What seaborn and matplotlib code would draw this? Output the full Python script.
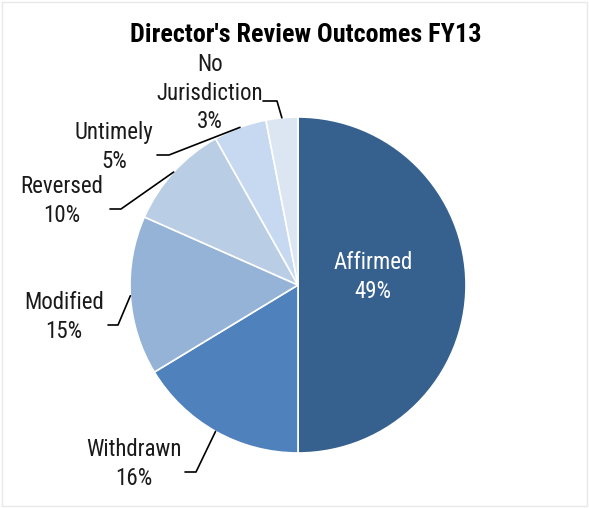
import matplotlib.pyplot as plt
import matplotlib.font_manager as fm
import numpy as np
import seaborn as sns
from matplotlib.patches import Rectangle

categories = ["Affirmed", "Withdrawn", "Modified", "Reversed", "Untimely", "No\nJurisdiction"]
shares = [49, 16, 15, 10, 5, 3]
COLORS = ["#36618f", "#4f81bd", "#95b3d7", "#b9cde5", "#c6d9f1", "#dce6f2"]

sns.set_theme(style="white")

available = {f.name for f in fm.fontManager.ttflist}
narrow = [n for n in ["Liberation Sans Narrow", "Arial Narrow", "Roboto Condensed",
                      "DejaVu Sans Condensed", "Open Sans Condensed"] if n in available]
if narrow:
    FAMILY, LABEL_SIZE, TITLE_SIZE = narrow[0], 16.5, 18.8
else:
    FAMILY, LABEL_SIZE, TITLE_SIZE = "Liberation Sans", 14, 15.5
plt.rcParams["font.family"] = [FAMILY, "DejaVu Sans"]

W, H = 589, 508
CX, CY, R = 298, 285, 168

# label centre, start of horizontal leader, elbow (pixels)
LABEL_POS = [
    (373, 277, None, None),
    (134, 464, 185, 196),
    (64, 317, 108, 118),
    (62, 201, 110, 121),
    (114, 147, 157, 169),
    (210, 93, 263, 277),
]


def to_data(px, py):
    return (px - CX) / R, (CY - py) / R


fig = plt.figure(figsize=(W / 100, H / 100), dpi=100)
ax = fig.add_axes([0, 0, 1, 1])
wedges, _ = ax.pie(
    shares,
    colors=sns.color_palette(COLORS),
    startangle=90,
    counterclock=False,
    wedgeprops=dict(edgecolor="white", linewidth=1.2),
)
ax.set_xlim(-CX / R, (W - CX) / R)
ax.set_ylim((CY - H) / R, CY / R)
ax.set_aspect("equal")
ax.axis("off")

for wedge, name, share, (lx, ly, h0, h1) in zip(wedges, categories, shares, LABEL_POS):
    tx, ty = to_data(lx, ly)
    if h0 is None:
        ax.text(tx, ty, f"{name}\n{share}%", ha="center", va="center",
                color="white", fontsize=LABEL_SIZE, linespacing=1.33)
        continue
    ax.text(tx, ty, f"{name}\n{share}%", ha="center", va="center",
            color="#1a1a1a", fontsize=LABEL_SIZE, linespacing=1.33)
    theta = np.deg2rad((wedge.theta1 + wedge.theta2) / 2)
    ex, ey = wedge.r * np.cos(theta), wedge.r * np.sin(theta)
    x0, hy = to_data(h0, ly + 8)
    x1, _ = to_data(h1, ly + 8)
    ax.plot([x0, x1, ex], [hy, hy, ey], color="black", lw=1.2)

fig.text(306 / W, 1 - 35 / H, "Director's Review Outcomes FY13", ha="center",
         va="center", fontsize=TITLE_SIZE, fontweight="bold", color="black")
fig.patches.append(Rectangle((0.004, 0.004), 0.992, 0.992, transform=fig.transFigure,
                             fill=False, ec="#e8e8e8", lw=1))

fig.savefig("out.png", dpi=100)
